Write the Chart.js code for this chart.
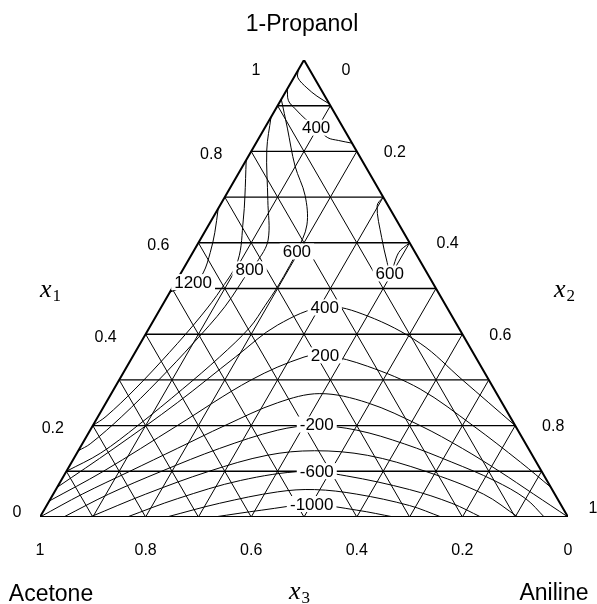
<!DOCTYPE html>
<html><head><meta charset="utf-8">
<script src="https://cdn.jsdelivr.net/npm/chart.js@4.4.0/dist/chart.umd.min.js"></script>
<style>html,body{margin:0;padding:0;background:#fff;}canvas{display:block;}</style>
</head><body>
<canvas id="c" width="597" height="604"></canvas>
<script>
// ---------- data (compositions: [x1 = 1-Propanol, x2 = Aniline], x3 = 1 - x1 - x2) ----------
const gridSteps = [0.1, 0.2, 0.3, 0.4, 0.5, 0.6, 0.7, 0.8, 0.9];
const tickValues = [0, 0.2, 0.4, 0.6, 0.8, 1];
const tickLabels = ["0", "0.2", "0.4", "0.6", "0.8", "1"];
const componentNames = ["1-Propanol", "Aniline", "Acetone"];

const c200top  = [[0.978,0],[0.961,0.008],[0.939,0.036],[0.921,0.064],[0.904,0.096]];
const c400top  = [[0.937,0],[0.911,0.015],[0.893,0.037],[0.871,0.067],[0.852,0.097],[0.83,0.13],[0.824,0.153],[0.818,0.182]];
const c600     = [[0.914,0],[0.851,0.043],[0.768,0.099],[0.704,0.15],[0.639,0.186],[0.581,0.196],[0.55,0.198],[0.502,0.198],[0.463,0.195],[0.415,0.19],[0.35,0.165],[0.28,0.13],[0.2,0.085],[0.14,0.045],[0.1,0]];
const c600right= [[0.7,0.3],[0.681,0.298],[0.612,0.341],[0.557,0.379],[0.533,0.397],[0.579,0.39],[0.6,0.4]];
const c800     = [[0.875,0],[0.803,0.028],[0.693,0.085],[0.606,0.129],[0.558,0.132],[0.542,0.127],[0.46,0.12],[0.38,0.10],[0.3,0.075],[0.22,0.045],[0.16,0.015],[0.145,0]];
const c1000    = [[0.781,0],[0.70,0.038],[0.65,0.06],[0.562,0.094],[0.501,0.094],[0.44,0.085],[0.36,0.065],[0.28,0.04],[0.22,0.015],[0.2,0]];
const c1200    = [[0.675,0],[0.622,0.02],[0.579,0.033],[0.534,0.042],[0.514,0.035],[0.492,0]];
const c400low  = [[0.065,0],[0.15,0.065],[0.25,0.135],[0.35,0.195],[0.42,0.24],[0.46,0.31],[0.44,0.40],[0.38,0.53],[0.3,0.65],[0.2,0.8]];
const c200low  = [[0.035,0],[0.1,0.07],[0.2,0.16],[0.3,0.25],[0.35,0.325],[0.354,0.363],[0.33,0.455],[0.28,0.58],[0.2,0.72],[0.12,0.85],[0.065,0.935]];
const c0       = [[0,0],[0.05,0.055],[0.1,0.12],[0.15,0.185],[0.2,0.25],[0.25,0.325],[0.27,0.395],[0.25,0.495],[0.2,0.62],[0.15,0.725],[0.1,0.82],[0.05,0.91],[0,1]];
const cm200    = [[0,0.045],[0.05,0.105],[0.1,0.18],[0.15,0.265],[0.19,0.355],[0.2,0.42],[0.19,0.505],[0.16,0.61],[0.12,0.72],[0.08,0.82],[0.04,0.9],[0,0.955]];
const cm400    = [[0,0.095],[0.05,0.175],[0.1,0.27],[0.135,0.3625],[0.145,0.4475],[0.135,0.5525],[0.1,0.68],[0.05,0.815],[0,0.905]];
const cm600    = [[0,0.165],[0.04,0.24],[0.08,0.34],[0.1,0.45],[0.09,0.535],[0.06,0.67],[0.03,0.765],[0,0.835]];
const cm800    = [[0,0.24],[0.03,0.325],[0.055,0.4225],[0.06,0.49],[0.05,0.575],[0.025,0.6875],[0,0.76]];
const cm1000   = [[0,0.33],[0.015,0.4125],[0.027,0.5],[0.015,0.5925],[0,0.67]];

const contourLabelText = ["400","600","800","1200","600","400","200","-200","-600","-1000"];
const contourLabelX1   = [0.852, 0.581, 0.542, 0.514, 0.533, 0.4585, 0.3537, 0.2023, 0.1004, 0.0284];
const contourLabelX2   = [0.097, 0.196, 0.126, 0.033, 0.396, 0.31, 0.363, 0.423, 0.474, 0.5004];

// ---------- build ----------
const contourLines = [c200top, c400top, c600, c600right, c800, c1000, c1200, c400low, c200low, c0, cm200, cm400, cm600, cm800, cm1000];
const toXY = p => ({ x: p[1] + p[0] / 2, y: p[0] });

const datasets = [];
gridSteps.forEach(c => {
  datasets.push({ data: [toXY([c, 0]), toXY([c, 1 - c])], borderWidth: 1.4, tension: 0 }); // x1 = c
  datasets.push({ data: [toXY([1 - c, c]), toXY([0, c])], borderWidth: 1, tension: 0 });   // x2 = c
  datasets.push({ data: [toXY([1 - c, 0]), toXY([0, 1 - c])], borderWidth: 1, tension: 0 }); // x3 = c
});
contourLines.forEach(line => {
  datasets.push({ data: line.map(toXY), borderWidth: 1, tension: 0.35 });
});
datasets.push({ data: [toXY([1, 0]), toXY([0, 0]), toXY([0, 1]), toXY([1, 0])], borderWidth: 2, tension: 0 });
datasets.forEach(d => { d.borderColor = '#000'; d.showLine = true; d.pointRadius = 0; d.fill = false; });

const SANS = '"Liberation Sans", Arial, Helvetica, sans-serif';
const SERIF = '"Liberation Serif", "Times New Roman", serif';

const textPlugin = {
  id: 'ternaryTexts',
  afterDatasetsDraw(chart) {
    const ctx = chart.ctx, xs = chart.scales.x, ys = chart.scales.y;
    const P = (x1, x2) => [xs.getPixelForValue(x2 + x1 / 2), ys.getPixelForValue(x1)];
    ctx.save();
    ctx.textAlign = 'center'; ctx.textBaseline = 'middle';
    // contour labels with white background
    ctx.font = '17px ' + SANS;
    contourLabelText.forEach((t, i) => {
      const [px, py] = P(contourLabelX1[i], contourLabelX2[i]);
      const w = ctx.measureText(t).width + 6;
      ctx.fillStyle = '#fff'; ctx.fillRect(px - w / 2, py - 8, w, 16);
      ctx.fillStyle = '#000'; ctx.fillText(t, px, py + 1);
    });
    // tick labels
    ctx.font = '16px ' + SANS;
    ctx.fillStyle = '#000';
    tickValues.forEach((v, i) => {
      const t = tickLabels[i];
      // left side: x1
      let [px, py] = P(v, 0);
      let off = v === 1 ? [-48, 11] : v === 0 ? [-23, -4] : [-40, 3];
      ctx.fillText(t, px + off[0], py + off[1]);
      // right side: x2
      [px, py] = P(1 - v, v);
      off = v === 0 ? [42, 11] : v === 1 ? [25, -8] : [38, 1];
      ctx.fillText(t, px + off[0], py + off[1]);
      // bottom: x3
      [px, py] = P(0, 1 - v);
      ctx.fillText(t, px, py + 34);
    });
    // component names
    ctx.font = '23px ' + SANS;
    let [ax, ay] = P(1, 0);
    ctx.fillText(componentNames[0], ax - 2, ay - 35);
    [ax, ay] = P(0, 1);
    ctx.fillText(componentNames[1], ax - 14, ay + 77);
    [ax, ay] = P(0, 0);
    ctx.fillText(componentNames[2], ax + 11, ay + 78);
    // axis symbols x1, x2, x3
    ctx.textAlign = 'left'; ctx.textBaseline = 'alphabetic';
    const sym = (x, y, sub) => {
      ctx.font = 'italic 26px ' + SERIF;
      ctx.fillText('x', x, y);
      const w = ctx.measureText('x').width;
      ctx.font = '17px ' + SERIF;
      ctx.fillText(sub, x + w + 1, y + 4);
    };
    [ax, ay] = P(0.5, 0);
    sym(ax - 132, ay + 8, '1');
    [ax, ay] = P(0.5, 0.5);
    sym(ax + 118, ay + 8, '2');
    [ax, ay] = P(0, 0.5);
    sym(ax - 15, ay + 82, '3');
    ctx.restore();
  }
};

new Chart(document.getElementById('c'), {
  type: 'scatter',
  data: { datasets },
  options: {
    responsive: false,
    animation: false,
    devicePixelRatio: 1,
    events: [],
    layout: { padding: { left: 40, right: 29, top: 60, bottom: 87 } },
    scales: {
      x: { type: 'linear', min: 0, max: 1, display: false },
      y: { type: 'linear', min: 0, max: 1, display: false }
    },
    plugins: { legend: { display: false }, tooltip: { enabled: false } }
  },
  plugins: [textPlugin]
});
</script>
</body></html>
